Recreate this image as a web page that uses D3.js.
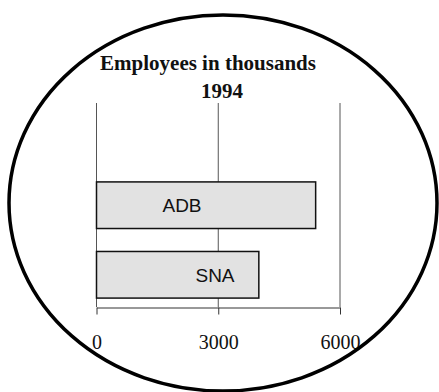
<!DOCTYPE html>
<html>
<head>
<meta charset="utf-8">
<script src="https://cdn.jsdelivr.net/npm/d3@7"></script>
<style>
  body { margin: 0; background: #fff; }
</style>
</head>
<body>
<div id="viz"></div>
<script>
var svg_width = 439;
var svg_height = 392;

var categories = ["ADB", "SNA"];
var values = [5400, 4000];
var tick_values = [0, 3000, 6000];
var title_lines = ["Employees in thousands", "1994"];

var svg = d3.select('#viz')
  .append('svg')
  .attr('width', svg_width)
  .attr('height', svg_height);

// plot area
var plot_left = 96, plot_right = 339.5, plot_top = 103, plot_bottom = 307;

var x = d3.scaleLinear().domain([0, 6000]).range([plot_left, plot_right]);
var y = d3.scaleBand().domain(categories).range([168, 312]).paddingInner(0.33).paddingOuter(0.2);

// gridlines
svg.selectAll('line.grid')
  .data(tick_values)
  .enter()
  .append('line')
  .attr('class', 'grid')
  .attr('x1', d => x(d) + 0.5)
  .attr('x2', d => x(d) + 0.5)
  .attr('y1', plot_top)
  .attr('y2', plot_bottom)
  .attr('stroke', '#555')
  .attr('stroke-width', 1);

// x axis
var axis = svg.append('g')
  .attr('transform', 'translate(0.5,' + (plot_bottom + 0.5) + ')')
  .call(d3.axisBottom(x).tickValues(tick_values).tickSize(7).tickSizeOuter(0).tickFormat(d3.format('d')));
axis.select('.domain').attr('stroke', '#333');
axis.selectAll('.tick line').attr('stroke', '#333');
axis.selectAll('.tick text')
  .attr('y', 27)
  .attr('font-family', '"Liberation Serif", "Times New Roman", serif')
  .attr('font-size', '20px')
  .attr('fill', '#111');

// bars
svg.selectAll('rect.bar')
  .data(values)
  .enter()
  .append('rect')
  .attr('class', 'bar')
  .attr('x', x(0) + 0.5)
  .attr('y', (d, i) => y(categories[i]))
  .attr('width', d => x(d) - x(0))
  .attr('height', y.bandwidth())
  .attr('fill', '#e2e2e2')
  .attr('stroke', '#111')
  .attr('stroke-width', 1.5);

// bar labels
var label_x = [182, 215];
svg.selectAll('text.lbl')
  .data(categories)
  .enter()
  .append('text')
  .attr('class', 'lbl')
  .text(d => d)
  .attr('x', (d, i) => label_x[i])
  .attr('y', d => y(d) + y.bandwidth() / 2 + 7)
  .attr('text-anchor', 'middle')
  .attr('font-family', '"Liberation Sans", Arial, sans-serif')
  .attr('font-size', '19px')
  .attr('fill', '#111');

// title
svg.selectAll('text.title')
  .data(title_lines)
  .enter()
  .append('text')
  .attr('class', 'title')
  .text(d => d)
  .attr('x', (d, i) => i == 0 ? 208 : 222)
  .attr('y', (d, i) => 70 + i * 28)
  .attr('text-anchor', 'middle')
  .attr('font-family', '"Liberation Serif", "Times New Roman", serif')
  .attr('font-weight', 'bold')
  .attr('font-size', '21px')
  .attr('fill', '#111');

// ellipse frame
svg.append('ellipse')
  .attr('cx', 223)
  .attr('cy', 203)
  .attr('rx', 214)
  .attr('ry', 188)
  .attr('fill', 'none')
  .attr('stroke', '#000')
  .attr('stroke-width', 3.5);
</script>
</body>
</html>
